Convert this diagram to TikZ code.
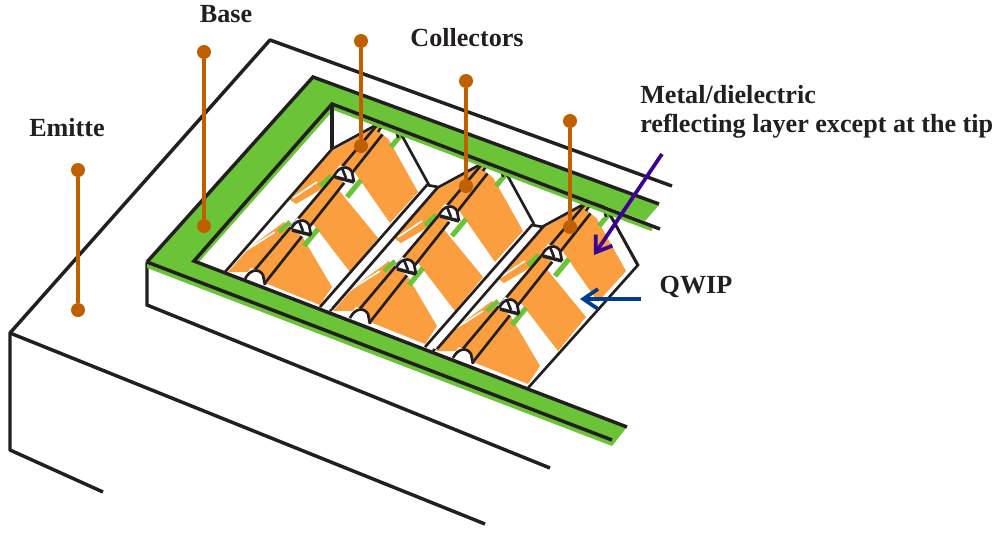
\documentclass[tikz,border=0pt]{standalone}
\usepackage{fontspec}
\setmainfont{Liberation Serif}
\usetikzlibrary{arrows.meta}
\definecolor{dkline}{HTML}{231F20}
\definecolor{grn}{HTML}{6BC337}
\definecolor{orng}{HTML}{FB9E3F}
\definecolor{brwn}{HTML}{C05F00}
\definecolor{prpl}{HTML}{3C0096}
\definecolor{blu}{HTML}{003D8F}
\tikzset{
  edge/.style={draw=dkline,line width=2.6pt},
  thin edge/.style={draw=dkline,line width=2pt},
  pin dot/.style={circle,fill=brwn,inner sep=0pt,minimum size=10.5pt},
  pin line/.style={draw=brwn,line width=2.8pt},
  lbl/.style={font=\bfseries\fontsize{19.6}{24}\selectfont,text=dkline,inner sep=0pt},
}
\begin{document}
\begin{tikzpicture}[x=0.75pt,y=-0.75pt]
\useasboundingbox (0,0) rectangle (1000,533);

% Emitter outline
\draw[edge,line join=round] (672,186) -- (270,40) -- (10,333) -- (10,450) -- (103,492);
\draw[edge] (10,333) -- (485,524);
\draw[edge] (147,262) -- (147,305) -- (550,468);

% Collector units
\foreach \dx/\dy in {0/0,105/39,208/79}{
\begin{scope}[shift={(\dx,\dy)}]
  % stripes
  \fill[orng] (265,283) -- (302,236) -- (332,287) -- (320,305) -- cycle;
  \fill[orng] (337,188) -- (378,238) -- (350,272) -- (310,220) -- cycle;
  \fill[orng] (385,133) -- (418,192) -- (390,223) -- (353,170) -- cycle;
  % left band
  \fill[orng] (228,272) -- (250,247) -- (284,222) -- (292,230) -- (253,272) -- cycle;
  \fill[orng] (289,199) -- (332,151) -- (375,127) -- (378,124) -- (340,172) -- (320,190) -- (296,204) -- cycle;
  \fill[orng] (253,272) -- (378,124) -- (386,130) -- (265,283) -- cycle;
  \draw[white,line width=1.2pt] (245,251) -- (275,232);
  \draw[white,line width=1.2pt] (293,198) -- (317,182);
  % green bits
  \draw[grn,line width=3.8pt] (304,246) -- (318,229);
  \draw[grn,line width=3.8pt] (347,197) -- (361,180);
  \draw[grn,line width=3.8pt] (391,147) -- (401,135);
  \draw[grn,line width=3.4pt] (279,232) -- (290,222);
  \draw[grn,line width=3.4pt] (320,186) -- (331,176);
  % lines
  \draw[thin edge] (225,272) -- (332,149) -- (378,124);
  \draw[thin edge] (253,272) -- (378,124);
  \draw[thin edge] (265,283) -- (386,130);
  \draw[thin edge] (400,132) -- (429,185);
  % contacts
  \foreach \cx/\cy in {255/279,301/229,344/176,388/132}{
    \fill[white] (\cx-11,\cy-2) -- (\cx-4,\cy-11) -- (\cx+8,\cy-6) -- (\cx+11,\cy+5) -- (\cx+2,\cy+8) -- cycle;
    \draw[dkline,line width=2pt] (\cx-10,\cy) .. controls (\cx-5,\cy-10) and (\cx+4,\cy-11) .. (\cx+8,\cy-4) -- (\cx+10,\cy+6);
  }
  \foreach \cx/\cy in {301/229,344/176}{
    \draw[dkline,line width=2.6pt] (\cx-9,\cy+1) -- (\cx+10,\cy+6);
    \draw[dkline,line width=2pt] (\cx-2,\cy-8) -- (\cx+2,\cy+2);
  }
\end{scope}
}

% Rails between the units
\foreach \dx/\dy in {0/0,105/40}{
\begin{scope}[shift={(\dx,\dy)}]
  \fill[white] (320,307) -- (427,185) -- (438,187) -- (332,309) -- cycle;
  \draw[thin edge] (320,307) -- (427,185) -- (438,187) -- (332,309);
\end{scope}
}

% Right end wall
\draw[thin edge,line join=miter] (528,388) -- (638,265) -- (608,211);

% Base frame
\draw[grn,line width=2.6pt] (197,261.5) -- (333,108) -- (652,229.5);
\fill[grn] (147,262) -- (313,77) -- (659,205) -- (645,221) -- (332,104) -- (194,261) -- (627,427) -- (612,446) -- (147,268) -- cycle;
\draw[edge] (147,262) -- (313,77) -- (659,204);
\draw[edge] (660,229) -- (332,104) -- (194,261) -- (627,427);
\draw[edge] (147,262) -- (612,440);
\draw[edge] (332,104) -- (332,149);

% Pins
\node[pin dot] (emitA) at (78,170) {};
\node[pin dot] (emitB) at (78,310) {};
\node[pin dot] (baseA) at (204,52) {};
\node[pin dot] (baseB) at (204,226) {};
\node[pin dot] (collA) at (361,41) {};
\node[pin dot] (collB) at (361,146) {};
\node[pin dot] (collC) at (466,81) {};
\node[pin dot] (collD) at (466,186) {};
\node[pin dot] (collE) at (570,121) {};
\node[pin dot] (collF) at (570,227) {};
\draw[pin line] (emitA) -- (emitB);
\draw[pin line] (baseA) -- (baseB);
\draw[pin line] (collA) -- (collB);
\draw[pin line] (collC) -- (collD);
\draw[pin line] (collE) -- (collF);

% Labels
\node[lbl] (emitLbl) at (67,128) {Emitte};
\node[lbl] (baseLbl) at (226,14) {Base};
\node[lbl] (collLbl) at (467,38) {Collectors};
\node[lbl,anchor=west] (metalLbl) at (640,95) {Metal/dielectric};
\node[lbl,anchor=west] (reflLbl) at (640,126) {reflecting layer except at the tip};
\node[lbl] (qwipLbl) at (696,287) {QWIP};

% Arrows
\coordinate (purpleA) at (662,154);
\coordinate (purpleB) at (594,255);
\coordinate (blueA) at (641,299);
\coordinate (blueB) at (580,299);
\draw[prpl,line width=2.8pt,-{Straight Barb[length=11pt,width=15pt]}] (purpleA) -- (purpleB);
\draw[blu,line width=2.8pt,-{Straight Barb[length=11pt,width=15pt]}] (blueA) -- (blueB);
\end{tikzpicture}
\end{document}
